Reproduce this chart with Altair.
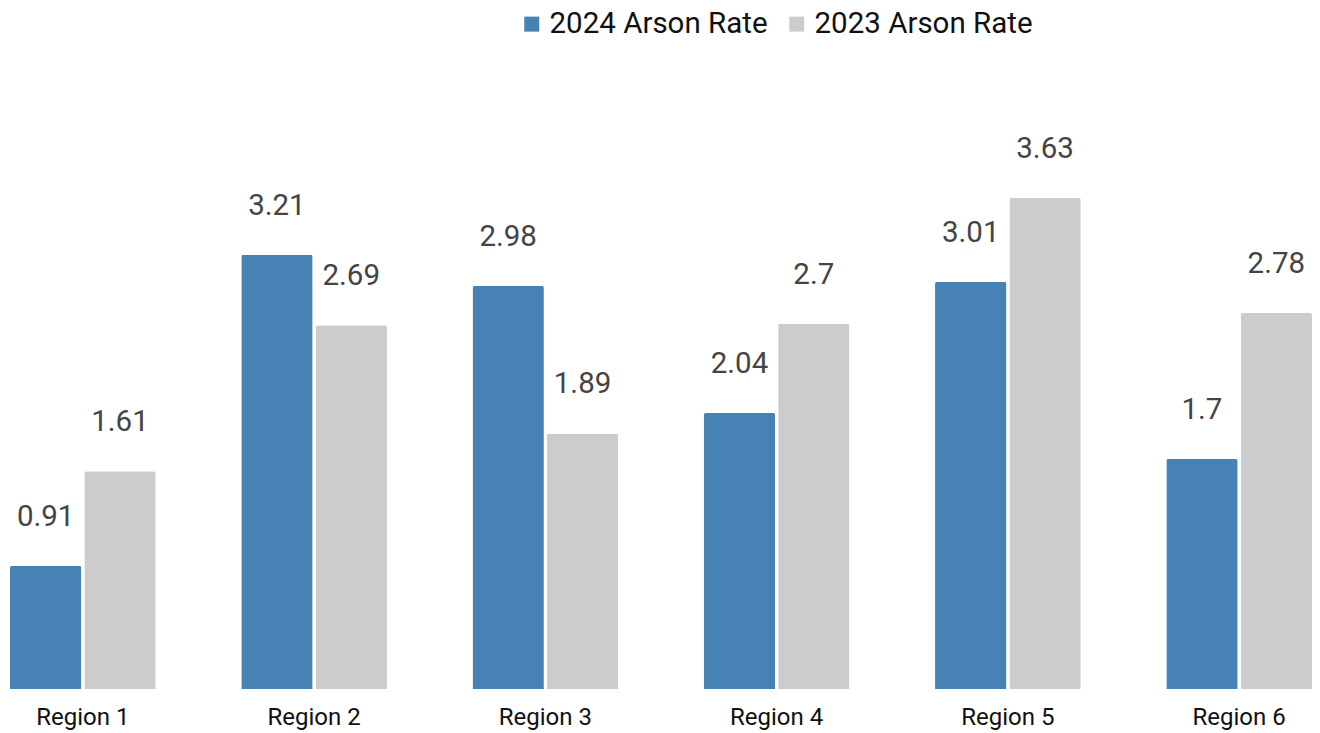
import altair as alt
import pandas as pd

regions = ["Region 1", "Region 2", "Region 3", "Region 4", "Region 5", "Region 6"]
series = ["2024 Arson Rate", "2023 Arson Rate"]
rate_2024 = [0.91, 3.21, 2.98, 2.04, 3.01, 1.7]
rate_2023 = [1.61, 2.69, 1.89, 2.7, 3.63, 2.78]
colors = ["#4682b4", "#cccccc"]

rows = []
for r, a, b in zip(regions, rate_2024, rate_2023):
    rows.append({"region": r, "series": series[0], "value": a, "label": f"{a:g}"})
    rows.append({"region": r, "series": series[1], "value": b, "label": f"{b:g}"})
df = pd.DataFrame(rows)

FONT = "Roboto"

base = alt.Chart(df).encode(
    x=alt.X("region:N", sort=regions,
            scale=alt.Scale(paddingInner=0.37, paddingOuter=0),
            axis=alt.Axis(title=None, labelAngle=0, ticks=False, domain=False,
                          labelFontSize=24, labelColor="#111111", labelFont=FONT,
                          labelPadding=16)),
    xOffset=alt.XOffset("series:N", sort=series,
                        scale=alt.Scale(paddingInner=0.04, paddingOuter=0)),
    y=alt.Y("value:Q", scale=alt.Scale(domain=[0, 4], nice=False),
            axis=None),
)

bars = base.mark_bar(cornerRadiusTopLeft=2, cornerRadiusTopRight=2).encode(
    color=alt.Color("series:N", sort=series,
                    scale=alt.Scale(domain=series, range=colors),
                    legend=alt.Legend(title=None, orient="none", direction="horizontal",
                                      legendX=507, legendY=-139,
                                      symbolType="square", symbolSize=225,
                                      symbolStrokeWidth=0, symbolOpacity=1,
                                      labelFontSize=29.5, labelFont=FONT,
                                      labelColor="#111111", columnPadding=14,
                                      labelOffset=3, labelLimit=400, padding=0)),
)

labels = base.mark_text(baseline="middle", align="center", dy=-49,
                        fontSize=29.5, font=FONT, color="#444444").encode(
    text="label:N"
)

chart = (bars + labels).properties(
    width=1302, height=541,
    autosize=alt.AutoSizeParams(type="none"),
    padding={"left": 2, "top": 140, "right": 0, "bottom": 44},
).configure(font=FONT).configure_view(strokeWidth=0)

chart.save("out.html", embed_options={"renderer": "svg", "actions": False})
